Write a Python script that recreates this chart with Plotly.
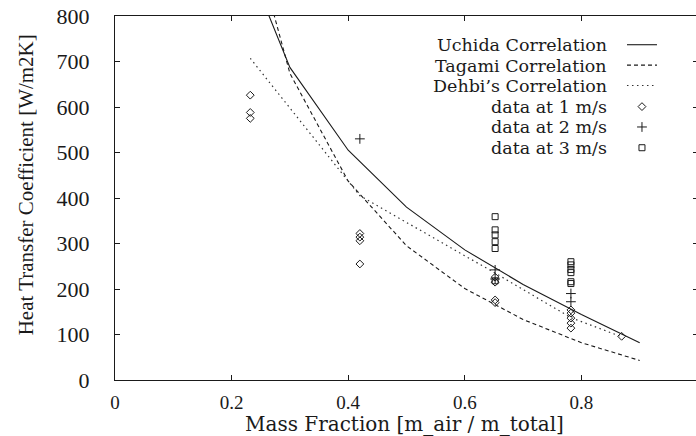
import plotly.graph_objects as go

# Correlations evaluated over air mass fraction
corr_x = [0.2, 0.3, 0.4, 0.5, 0.6, 0.7, 0.8, 0.9]
uchida = [1003, 687, 505, 380, 286, 210, 144, 82]
tagami = [1147, 674, 437, 295, 201, 133, 82, 43]

dehbi_x = [0.232, 0.42, 0.652, 0.782, 0.869]
dehbi = [707, 405, 235, 137, 95]

# Measured heat transfer coefficients
d1_x = [0.232, 0.232, 0.232, 0.42, 0.42, 0.42, 0.42,
        0.652, 0.652, 0.652, 0.652,
        0.782, 0.782, 0.782, 0.782, 0.782, 0.869]
d1_y = [626, 588, 575, 322, 314, 306, 255,
        226, 215, 176, 170,
        154, 147, 136, 125, 114, 96]

d2_x = [0.42, 0.652, 0.652, 0.782, 0.782]
d2_y = [530, 242, 222, 190, 172]

d3_x = [0.652, 0.652, 0.652, 0.652, 0.652, 0.652,
        0.782, 0.782, 0.782, 0.782, 0.782, 0.782]
d3_y = [359, 330, 319, 304, 289, 218,
        260, 253, 243, 236, 216, 212]

labels = ["Uchida Correlation", "Tagami Correlation", "Dehbi\u2019s Correlation",
          "data at 1 m/s", "data at 2 m/s", "data at 3 m/s"]

x_ticks = [0, 0.2, 0.4, 0.6, 0.8, 1]
x_ticktext = ["0", "0.2", "0.4", "0.6", "0.8", "1"]
y_ticks = [0, 100, 200, 300, 400, 500, 600, 700, 800]

INK = "#1a1a1a"
FONT = "Liberation Serif"
WIDE_FONT = "DejaVu Serif"

# one key row per trace: label on the left, sample on the right
row_y = [0.920, 0.864, 0.808, 0.750, 0.694, 0.637]
legend_ids = ["legend", "legend2", "legend3", "legend4", "legend5", "legend6"]

fig = go.Figure()
fig.add_trace(go.Scatter(x=corr_x, y=uchida, mode="lines", name=" ",
                         legend=legend_ids[0],
                         line=dict(color=INK, width=1.1)))
fig.add_trace(go.Scatter(x=corr_x, y=tagami, mode="lines", name=" ",
                         legend=legend_ids[1],
                         line=dict(color=INK, width=1.1, dash="4px,3px")))
fig.add_trace(go.Scatter(x=dehbi_x, y=dehbi, mode="lines", name=" ",
                         legend=legend_ids[2],
                         line=dict(color="#333333", width=1.2, dash="1.5px,3.5px")))
fig.add_trace(go.Scatter(x=d1_x, y=d1_y, mode="markers", name=" ",
                         legend=legend_ids[3],
                         marker=dict(symbol="diamond-open", size=6, color=INK,
                                     line=dict(width=1, color=INK))))
fig.add_trace(go.Scatter(x=d2_x, y=d2_y, mode="markers", name=" ",
                         legend=legend_ids[4],
                         marker=dict(symbol="cross-thin-open", size=7, color=INK,
                                     line=dict(width=1, color=INK))))
fig.add_trace(go.Scatter(x=d3_x, y=d3_y, mode="markers", name=" ",
                         legend=legend_ids[5],
                         marker=dict(symbol="square-open", size=6, color=INK,
                                     line=dict(width=1, color=INK))))

for text, yy in zip(labels, row_y):
    fig.add_annotation(x=0.8456, y=yy, xref="paper", yref="paper",
                       text=text, showarrow=False, xanchor="right", yanchor="middle",
                       borderpad=0,
                       font=dict(family=WIDE_FONT, size=17.5, color=INK))

# Axis titles
fig.add_annotation(x=-0.153, y=0.537, xref="paper", yref="paper",
                   text="Heat Transfer Coefficient [W/m2K]", textangle=-90,
                   showarrow=False, xanchor="center", yanchor="middle",
                   font=dict(family=FONT, size=21, color=INK))
fig.add_annotation(x=0.497, y=-0.1215, xref="paper", yref="paper",
                   text="Mass Fraction [m_air / m_total]",
                   showarrow=False, xanchor="center", yanchor="middle",
                   borderpad=0,
                   font=dict(family=WIDE_FONT, size=20, color=INK))

axis_common = dict(showline=True, linecolor=INK, linewidth=1, mirror="ticks",
                   ticks="inside", ticklen=5, tickcolor=INK, showgrid=False,
                   zeroline=False)

fig.update_xaxes(range=[0, 1], tickvals=x_ticks, ticktext=x_ticktext,
                 ticklabelstandoff=5,
                 tickfont=dict(family=FONT, size=19, color=INK),
                 **axis_common)
fig.update_yaxes(range=[0, 800], tickvals=y_ticks, ticklabelstandoff=20,
                 tickfont=dict(family=FONT, size=22, color=INK),
                 **axis_common)

legend_style = dict(xanchor="left", yanchor="middle", bgcolor="rgba(0,0,0,0)",
                    borderwidth=0, font=dict(family=FONT, size=14, color=INK),
                    itemwidth=30)
layout_legends = {lid: dict(x=0.8696, y=yy, **legend_style)
                  for lid, yy in zip(legend_ids, row_y)}

fig.update_layout(
    width=700, height=436,
    margin=dict(l=115, r=2, t=16, b=56),
    paper_bgcolor="white", plot_bgcolor="white",
    showlegend=True,
    font=dict(family=FONT, color=INK),
    **layout_legends,
)

fig.write_html("out.html",
               post_script="document.documentElement.style.overflow='hidden';"
                           "document.body.style.overflow='hidden';")
